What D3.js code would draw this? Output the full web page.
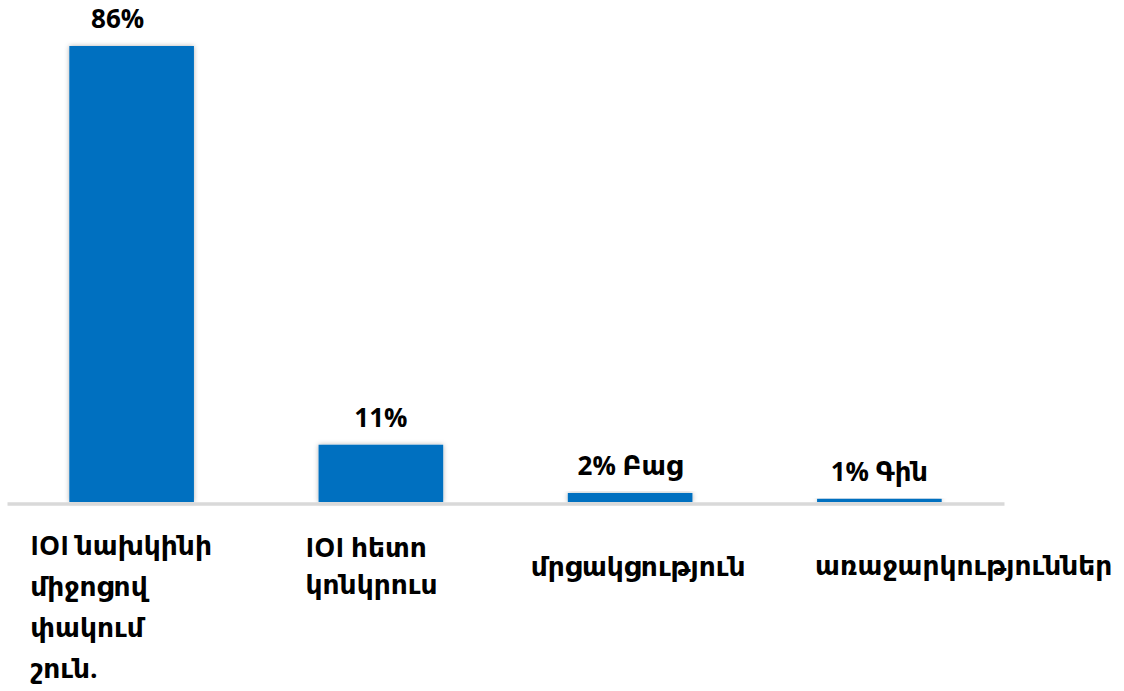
<!DOCTYPE html>
<html>
<head>
<meta charset="utf-8">
<script src="https://cdn.jsdelivr.net/npm/d3@7"></script>
<style>
  html, body { margin: 0; padding: 0; background: #fff; }
  #chart { width: 1124px; height: 691px; }
  .bar { fill: #0070C0; }
  .value, .cat { font-family: "Open Sans", "Noto Sans", "DejaVu Sans", sans-serif; font-weight: bold; fill: #000; }
</style>
</head>
<body>
<div id="chart"></div>
<script>
var categories = [
  ["IOI նախկինի", "միջոցով", "փակում", "շուն."],
  ["IOI հետո", "կոնկրուս"],
  ["մրցակցություն"],
  ["առաջարկություններ"]
];
var values = [86, 10.8, 1.7, 0.6];
var suffixes = ["", "", " Բաց", " Գին"];

var width = 1124, height = 691,
    baseY = 502, topY = 46;

// label placement tweaks (layout, not data)
var catDx = [-39, -13, -37, -2],
    catY = [555, 557, 576, 575],
    catLine = [41, 37, 0, 0],
    valDx = [-14, 0, 0, 0];

var svg = d3.select("#chart").append("svg")
  .attr("width", width)
  .attr("height", height);

var defs = svg.append("defs");
var f = defs.append("filter").attr("id", "shadow")
  .attr("x", "-20%").attr("y", "-20%").attr("width", "140%").attr("height", "140%");
f.append("feDropShadow")
  .attr("dx", 0).attr("dy", 0)
  .attr("stdDeviation", 2.5)
  .attr("flood-color", "#000")
  .attr("flood-opacity", 0.3);

var x = d3.scaleBand()
  .domain(d3.range(values.length))
  .range([7, 1004])
  .paddingInner(0.5)
  .paddingOuter(0.25);

var y = d3.scaleLinear()
  .domain([0, 86])
  .range([baseY, topY]);

// bars
svg.selectAll(".bar")
  .data(values)
  .enter().append("rect")
  .attr("class", "bar")
  .attr("x", (d, i) => x(i))
  .attr("y", d => y(d))
  .attr("width", x.bandwidth())
  .attr("height", d => baseY - y(d))
  .attr("filter", "url(#shadow)");

// axis line
var xAxis = d3.axisBottom(x).tickSize(0).tickFormat("");
svg.append("g")
  .attr("transform", "translate(0," + (baseY + 1.5) + ")")
  .call(xAxis)
  .call(g => g.select(".domain").attr("stroke", "#d9d9d9").attr("stroke-width", 3.5));

// value labels
svg.selectAll(".value")
  .data(values)
  .enter().append("text")
  .attr("class", "value")
  .attr("x", (d, i) => x(i) + x.bandwidth() / 2 + valDx[i])
  .attr("y", d => y(d) - 18)
  .attr("text-anchor", "middle")
  .style("font-size", "26px")
  .text((d, i) => Math.round(d) + "%" + suffixes[i]);

// category labels
var cats = svg.selectAll(".cat")
  .data(categories)
  .enter().append("text")
  .attr("class", "cat")
  .style("font-size", "26.5px")
  .attr("y", (d, i) => catY[i]);

cats.each(function(lines, i) {
  d3.select(this).selectAll("tspan")
    .data(lines)
    .enter().append("tspan")
    .attr("x", x(i) + catDx[i])
    .attr("dy", (l, j) => j === 0 ? 0 : catLine[i])
    .text(l => l);
});
</script>
</body>
</html>
